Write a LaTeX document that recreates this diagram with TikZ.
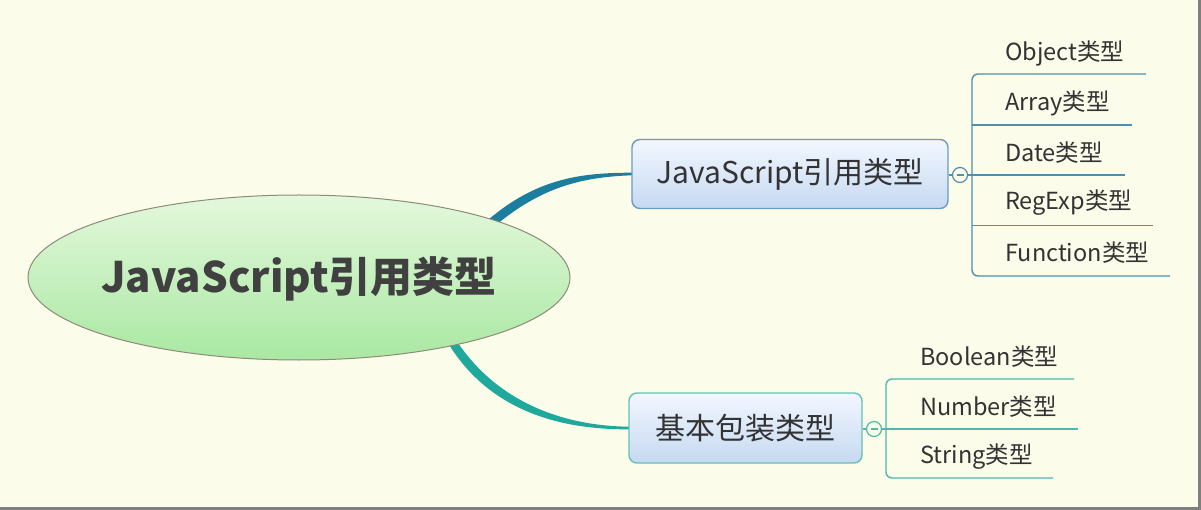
\documentclass[tikz,border=0pt]{standalone}
\usepackage{fontspec}
\setmainfont{Noto Sans CJK SC}
\usetikzlibrary{shapes.geometric,calc}
\definecolor{bg}{HTML}{FCFCEA}
\definecolor{frame}{HTML}{7F7F7F}
\definecolor{txt}{HTML}{333333}
\definecolor{roottxt}{HTML}{404040}
\definecolor{blueline}{HTML}{4E8FB0}
\definecolor{tealline}{HTML}{4DB8AC}
\definecolor{bluecon}{HTML}{1C7E9E}
\definecolor{tealcon}{HTML}{1FA89C}
\definecolor{rootedge}{HTML}{8C8C78}
\definecolor{roottop}{HTML}{E4F8DC}
\definecolor{rootbot}{HTML}{A9E8A2}
\definecolor{boxtop}{HTML}{F2F7FF}
\definecolor{boxbot}{HTML}{C6D9F1}
\definecolor{boxedge}{HTML}{6A9CC2}
\definecolor{box2edge}{HTML}{62C2B8}
\tikzset{
  rootshape/.style={draw=rootedge, line width=1pt, top color=roottop, bottom color=rootbot},
  roottext/.style={inner sep=0pt, text=roottxt, font=\bfseries\fontsize{42}{42}\selectfont},
  topicbox/.style={rectangle, rounded corners=8pt, line width=1.4pt, top color=boxtop, bottom color=boxbot,
    inner sep=0pt, text=txt},
  leaf/.style={anchor=west, inner sep=0pt, text=txt, font=\fontsize{23.5}{23.5}\selectfont},
  foldcirc/.style={circle, line width=1.2pt, fill=bg, minimum size=15pt, inner sep=0pt},
}
\begin{document}
\begin{tikzpicture}[x=1pt,y=-1pt]
\useasboundingbox (0,0) rectangle (1201,510);
\fill[bg] (0,0) rectangle (1201,510);
\fill[frame] (1197.5,0) rectangle (1201,510);
\fill[frame] (0,506.5) rectangle (1201,510);

% tapered connectors (drawn first, behind root and boxes)
\coordinate (c1s) at (492,222);
\coordinate (c2s) at (452,342);
\coordinate (t1w) at (632,174);
\coordinate (t2w) at (629,428);
\fill[bluecon] ($(c1s)+(-4,-2)$) .. controls (537,178) and (582,172.7) .. ($(t1w)+(0,-1.3)$)
  -- ($(t1w)+(0,1.3)$) .. controls (584,177) and (543,186) .. ($(c1s)+(4,3)$) -- cycle;
\fill[tealcon] ($(c2s)+(-4,1)$) .. controls (490,412) and (562,429.8) .. ($(t2w)+(0,1.3)$)
  -- ($(t2w)+(0,-1.3)$) .. controls (566,426) and (498,404) .. ($(c2s)+(4,-2)$) -- cycle;

% root
\draw[rootshape] (299,277.5) ellipse [x radius=271, y radius=82.5];
\node[roottext] (root) at (299,279) {JavaScript引用类型};

% topic boxes
\node[topicbox, draw=boxedge, minimum width=316pt, minimum height=69pt,
  font=\fontsize{30}{30}\selectfont] (t1) at (790,174) {JavaScript引用类型};
\node[topicbox, draw=box2edge, minimum width=233pt, minimum height=70pt,
  font=\fontsize{30}{30}\selectfont] (t2) at (745.5,428) {基本包装类型};

% fold circles
\node[foldcirc, draw=blueline] (f1) at (960,175) {};
\node[foldcirc, draw=tealline] (f2) at (874,429) {};
\draw[blueline, line width=1.2pt] ($(f1)+(-3.5,0)$) -- ($(f1)+(3.5,0)$);
\draw[tealline, line width=1.2pt] ($(f2)+(-3.5,0)$) -- ($(f2)+(3.5,0)$);
\draw[blueline, line width=1.4pt] (t1.east |- f1) -- (f1.west);
\draw[tealline, line width=1.4pt] (t2.east |- f2) -- (f2.west);

% top leaves
\node[leaf] (l1) at (1005,53) {Object类型};
\node[leaf] (l2) at (1005,103) {Array类型};
\node[leaf] (l3) at (1005,153) {Date类型};
\node[leaf] (l4) at (1005,203) {RegExp类型};
\node[leaf] (l5) at (1005,253) {Function类型};
\coordinate (b1t) at (972,74);
\coordinate (b1b) at (972,276);
\draw[blueline, line width=1.4pt, rounded corners=6pt] (1146,74) -- (b1t) -- (b1b) -- (1170,276);
\draw[blueline, line width=1.4pt] (972,125) -- (1132,125);
\draw[blueline, line width=1.4pt] (f1.east) -- (1125,175);
\draw[blueline, line width=1.4pt] (972,225.5) -- (1153,225.5);

% bottom leaves
\node[leaf] (m1) at (920,357) {Boolean类型};
\node[leaf] (m2) at (920,407) {Number类型};
\node[leaf] (m3) at (920,457) {String类型};
\coordinate (b2t) at (886,379);
\coordinate (b2b) at (886,478);
\draw[tealline, line width=1.4pt, rounded corners=6pt] (1074,379) -- (b2t) -- (b2b) -- (1053,478);
\draw[tealline, line width=1.4pt] (f2.east) -- (1078,429);
\end{tikzpicture}
\end{document}
